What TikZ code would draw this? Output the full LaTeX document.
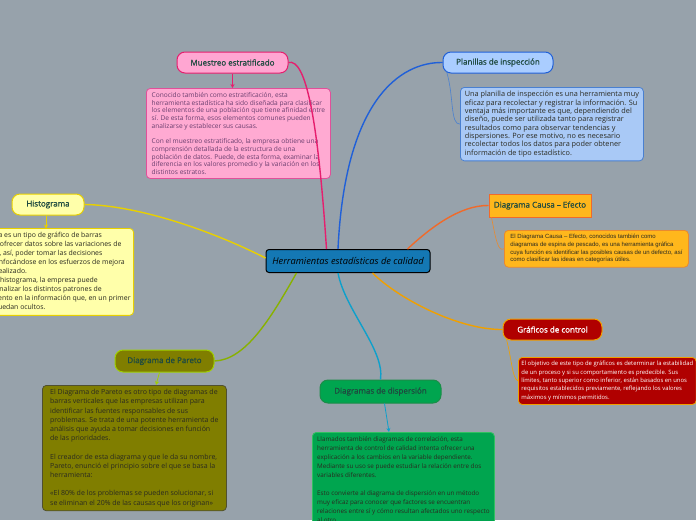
\documentclass[tikz,border=0pt]{standalone}
\usepackage{fontspec}
\setmainfont{Open Sans}
\newfontfamily\arialf{Liberation Sans}
\newfontfamily\titlef[FakeBold=1]{Open Sans}
\usetikzlibrary{arrows.meta}
\definecolor{bgc}{HTML}{97A2AB}
\definecolor{cfill}{HTML}{1478B4}
\definecolor{mfill}{HTML}{FFA6D2}\definecolor{mdraw}{HTML}{E61E6E}
\definecolor{mbfill}{HTML}{FFAAD2}\definecolor{mbdraw}{HTML}{E0509A}\definecolor{mtext}{HTML}{6B3F6F}
\definecolor{pfill}{HTML}{AACDFF}\definecolor{pdraw}{HTML}{2060D8}
\definecolor{pbfill}{HTML}{A9C9F6}\definecolor{pbdraw}{HTML}{4A80D0}
\definecolor{kfill}{HTML}{FFB71C}\definecolor{kdraw}{HTML}{F06A2A}\definecolor{kbdraw}{HTML}{E88A30}
\definecolor{gfill}{HTML}{B00000}\definecolor{gdraw}{HTML}{F0A000}
\definecolor{dfill}{HTML}{00A54F}\definecolor{ddraw}{HTML}{1B8D48}\definecolor{dbdraw}{HTML}{30C060}
\definecolor{rfill}{HTML}{807E00}\definecolor{rdraw}{HTML}{A0D000}\definecolor{rbdraw}{HTML}{505030}
\definecolor{hfill}{HTML}{FFFFAA}\definecolor{hdraw}{HTML}{E8D000}
\definecolor{ttext}{HTML}{1F4A40}
\definecolor{darktext}{HTML}{2A2A20}
\begin{document}
\begin{tikzpicture}[x=1pt,y=-1pt,
  title/.style={draw, line width=1pt, rounded corners=8pt, minimum height=21pt, inner sep=2pt,
    text=ttext, font=\titlef\fontsize{8}{9}\selectfont},
  body/.style={draw, line width=0.8pt, rounded corners=4pt, align=left, inner xsep=3pt, inner ysep=4pt},
  conn/.style={line width=1.4pt},
  thin/.style={line width=0.6pt},
  arr/.style={line width=0.8pt, -{Stealth[length=4pt,width=4pt]}}]
\useasboundingbox (0,0) rectangle (696,520);
\clip (0,0) rectangle (696,520);
\fill[bgc] (0,0) rectangle (696,520);

% central
\node[draw=black, line width=1pt, fill=cfill, rounded corners=3pt, minimum width=164pt, minimum height=23pt,
  font=\fontsize{9.3}{10}\selectfont\itshape, text=black] (c) at (348,261) {Herramientas estadísticas de calidad};

% titles
\node[title, fill=mfill, draw=mdraw, minimum width=111pt] (m) at (232.5,62.5) {Muestreo estratificado};
\node[title, fill=pfill, draw=pdraw, minimum width=110pt] (p) at (498,62.5) {Planillas de inspección};
\node[title, fill=kfill, draw=kdraw, rounded corners=0pt, minimum width=102pt, minimum height=23pt] (k) at (540,205.5) {Diagrama Causa – Efecto};
\node[title, fill=gfill, draw=gdraw, minimum width=99pt, text=white] (g) at (552.5,329.5) {Gráficos de control};
\node[title, fill=dfill, draw=ddraw, minimum width=121pt, minimum height=23pt] (d) at (380.5,391.5) {Diagramas de dispersión};
\node[title, fill=rfill, draw=rdraw, minimum width=99pt, minimum height=22pt] (r) at (164.5,361) {Diagrama de Pareto};
\node[title, fill=hfill, draw=hdraw, minimum width=72pt] (h) at (48,204.5) {Histograma};

% bodies
\node[body, anchor=north west, fill=mbfill, draw=mbdraw, text=mtext, minimum width=184pt,
  font=\fontsize{6.6}{7.7}\selectfont] (mb) at (146,88) {Conocido también como estratificación, esta\\
herramienta estadística ha sido diseñada para clasificar\\
los elementos de una población que tiene afinidad entre\\
sí. De esta forma, esos elementos comunes pueden\\
analizarse y establecer sus causas.\\[7.7pt]
Con el muestreo estratificado, la empresa obtiene una\\
comprensión detallada de la estructura de una\\
población de datos. Puede, de esta forma, examinar la\\
diferencia en los valores promedio y la variación en los\\
distintos estratos.};

\node[body, anchor=north west, fill=pbfill, draw=pbdraw, text=darktext, minimum width=183pt,
  font=\fontsize{7.3}{8.3}\selectfont] (pb) at (460,87) {Una planilla de inspección es una herramienta muy\\
eficaz para recolectar y registrar la información. Su\\
ventaja más importante es que, dependiendo del\\
diseño, puede ser utilizada tanto para registrar\\
resultados como para observar tendencias y\\
dispersiones. Por ese motivo, no es necesario\\
recolectar todos los datos para poder obtener\\
información de tipo estadístico.};

\node[body, anchor=north west, fill=kfill, draw=kbdraw, text=darktext, minimum width=184pt,
  font=\arialf\fontsize{6}{7.7}\selectfont] (kb) at (504,230) {El Diagrama Causa – Efecto, conocidos también como\\
diagramas de espina de pescado, es una herramienta gráfica\\
cuya función es identificar las posibles causas de un defecto, así\\
como clasificar las ideas en categorías útiles.};

\node[body, anchor=north west, fill=gfill, draw=gdraw, text=white,
  font=\fontsize{5.9}{8.3}\selectfont] (gb) at (518,357) {El objetivo de este tipo de gráficos es determinar la estabilidad\\
de un proceso y si su comportamiento es predecible. Sus\\
límites, tanto superior como inferior, están basados en unos\\
requisitos establecidos previamente, reflejando los valores\\
máximos y mínimos permitidos.};

\node[body, anchor=north west, fill=dfill, draw=dbdraw, text=darktext, minimum width=182pt,
  font=\fontsize{6.3}{9}\selectfont] (db) at (312,432) {Llamados también diagramas de correlación, esta\\
herramienta de control de calidad intenta ofrecer una\\
explicación a los cambios en la variable dependiente.\\
Mediante su uso se puede estudiar la relación entre dos\\
variables diferentes.\\[9pt]
Esto convierte al diagrama de dispersión en un método\\
muy eficaz para conocer que factores se encuentran\\
relaciones entre sí y cómo resultan afectados uno respecto\\
al otro.};

\node[body, anchor=north west, fill=rfill, draw=rbdraw, text=darktext, minimum width=184pt,
  font=\fontsize{7}{9.2}\selectfont] (rb) at (42,385) {El Diagrama de Pareto es otro tipo de diagramas de\\
barras verticales que las empresas utilizan para\\
identificar las fuentes responsables de sus\\
problemas. Se trata de una potente herramienta de\\
análisis que ayuda a tomar decisiones en función\\
de las prioridades.\\[9.2pt]
El creador de esta diagrama y que le da su nombre,\\
Pareto, enunció el principio sobre el que se basa la\\
herramienta:\\[9.2pt]
«El 80\% de los problemas se pueden solucionar, si\\
se eliminan el 20\% de las causas que los originan»};

\node[body, anchor=north east, fill=hfill, draw=hdraw, text=darktext,
  font=\fontsize{6.9}{9}\selectfont] (hb) at (134,228) {El histograma es un tipo de gráfico de barras\\
que permite ofrecer datos sobre las variaciones de\\
un proceso y, así, poder tomar las decisiones\\
adecuadas enfocándose en los esfuerzos de mejora\\
que se han realizado.\\
Gracias a un histograma, la empresa puede\\
visualizar y analizar los distintos patrones de\\
comportamiento en la información que, en un primer\\
momento, quedan ocultos.};

% main connectors
\draw[conn, draw=mdraw] (c.north west) ++(61,0) coordinate (c1) .. controls (318,120) and (306,58) .. (m.east);
\draw[conn, draw=pdraw] (c.north) ++(-10,0) coordinate (c2) .. controls (345,100) and (400,62) .. (p.west);
\draw[conn, draw=kdraw] (c.north east) ++(-23,0) coordinate (c3) .. controls (430,228) and (460,205) .. (k.west);
\draw[conn, draw=gdraw] (c.south east) ++(-58,0) coordinate (c4) .. controls (400,300) and (460,330) .. (g.west);
\draw[conn, draw=cfill!70!cyan] (c.south) ++(-10,0) coordinate (c5) .. controls (345,310) and (385,350) .. (d.north);
\draw[conn, draw=rdraw!85!black] (c.south west) ++(31,0) coordinate (c6) .. controls (270,320) and (245,360) .. (r.east);
\draw[conn, draw=hdraw] (c.west) ++(0,-3) coordinate (c7) .. controls (200,225) and (130,205) .. (h.east);

% thin connectors
\draw[thin, draw=pbdraw] (p.south west) ++(4,-2) .. controls (454,95) and (450,125) .. (pb.west);
\draw[thin, draw=kbdraw] (k.south west) ++(3,0) .. controls (496,240) and (498,252) .. (kb.west);
\draw[thin, draw=gdraw] (g.south west) ++(4,-1) .. controls (512,360) and (512,378) .. (gb.west);

% arrows
\draw[arr, draw=mdraw] (m.south) -- (mb.north -| m.south);
\draw[arr, draw=hdraw] (h.south) ++(-2,0) -- ++(0,13);
\draw[arr, draw=rdraw] (r.south) ++(-5,0) -- (rb.north -| 156,0);
\draw[arr, draw=cfill!70!cyan] (d.south) ++(4,0) -- (db.north -| 389,0);
\end{tikzpicture}
\end{document}
